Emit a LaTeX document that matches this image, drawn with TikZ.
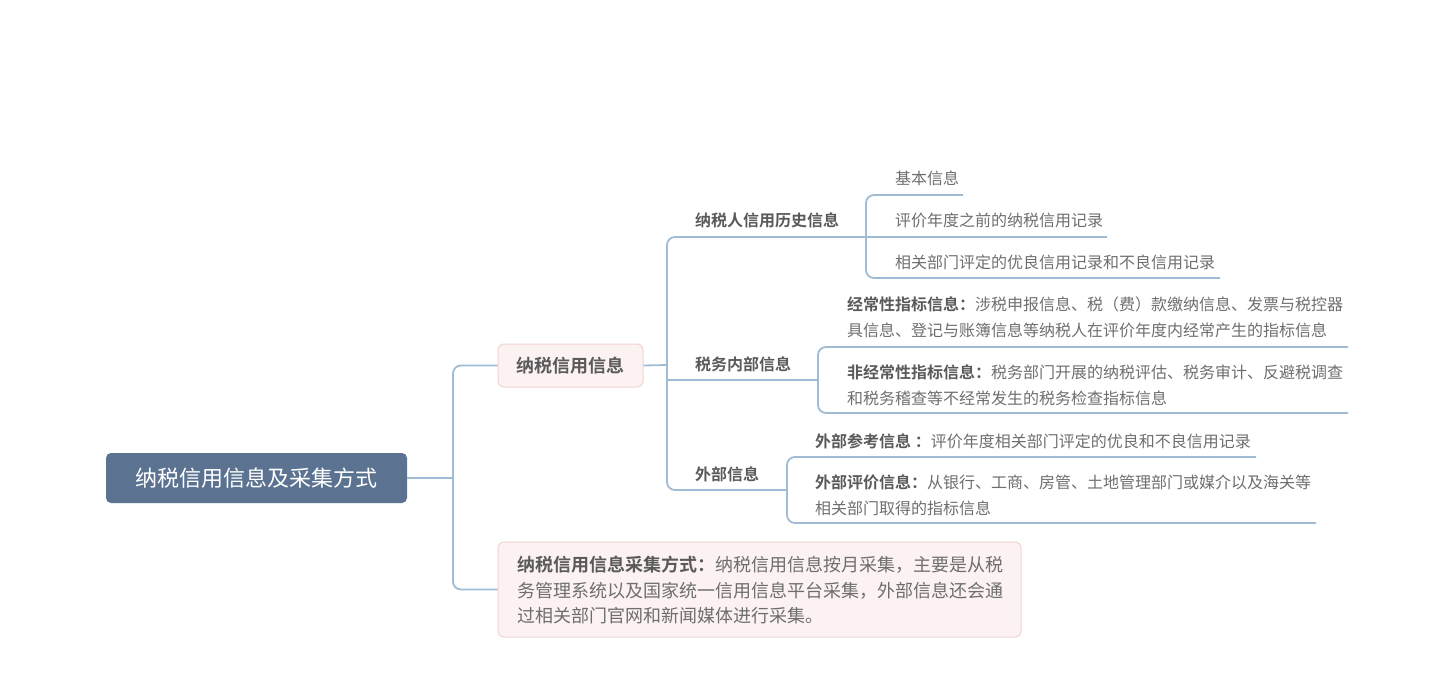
\documentclass[tikz,border=0pt]{standalone}
\usepackage{fontspec}
\setmainfont{Noto Sans CJK SC}
\newfontfamily\cjkb{Noto Sans CJK SC Bold}
\definecolor{rootfill}{HTML}{5B7391}
\definecolor{linec}{HTML}{A0BCD4}
\definecolor{pinkfill}{HTML}{FCF2F2}
\definecolor{pinkdraw}{HTML}{F2D3D3}
\definecolor{txt}{HTML}{6E6E6E}
\definecolor{btxt}{HTML}{5A5A5A}
\begin{document}
\begin{tikzpicture}[x=1pt,y=-1pt,
  conn/.style={draw=linec,line width=1.8pt,rounded corners=8pt},
  rootbox/.style={fill=rootfill,rounded corners=5pt,text=white,minimum width=301pt,minimum height=50pt,font=\fontsize{22}{26}\selectfont,inner sep=0pt},
  pinkbox/.style={fill=pinkfill,draw=pinkdraw,line width=1pt,rounded corners=6pt,inner sep=0pt},
  topic/.style={anchor=west,inner sep=0pt,yshift=-1pt,text=btxt,font=\cjkb\fontsize{16}{26}\selectfont},
  leaf/.style={anchor=west,inner sep=0pt,yshift=-1pt,text=txt,align=left,font=\fontsize{16}{26}\selectfont}]
\useasboundingbox (0,0) rectangle (1445,674);
% nodes
\node[rootbox] (root) at (256.5,478) {纳税信用信息及采集方式};
\node[pinkbox,minimum width=145pt,minimum height=43pt,text=btxt,font=\cjkb\fontsize{18}{22}\selectfont] (c1) at (570.5,365.5) {纳税信用信息};
\node[pinkbox,minimum width=523pt,minimum height=95pt] (c2) at (759.5,589.5) {};
\node[leaf,font=\fontsize{18}{25.5}\selectfont] (c2t) at (517,589) {{\cjkb\color{btxt}纳税信用信息采集方式：}纳税信用信息按月采集，主要是从税\\务管理系统以及国家统一信用信息平台采集，外部信息还会通\\过相关部门官网和新闻媒体进行采集。};

\node[topic] (t1) at (695,219) {纳税人信用历史信息};
\node[topic] (t2) at (695,363) {税务内部信息};
\node[topic] (t3) at (695,473) {外部信息};

\node[leaf] (l11) at (895,177) {基本信息};
\node[leaf] (l12) at (895,219) {评价年度之前的纳税信用记录};
\node[leaf] (l13) at (895,261) {相关部门评定的优良信用记录和不良信用记录};

\node[leaf] (l21) at (847,316) {{\cjkb\color{btxt}经常性指标信息：}涉税申报信息、税（费）款缴纳信息、发票与税控器\\具信息、登记与账簿信息等纳税人在评价年度内经常产生的指标信息};
\node[leaf] (l22) at (847,384) {{\cjkb\color{btxt}非经常性指标信息：}税务部门开展的纳税评估、税务审计、反避税调查\\和税务稽查等不经常发生的税务检查指标信息};

\node[leaf] (l31) at (815,440) {{\cjkb\color{btxt}外部参考信息 ：}评价年度相关部门评定的优良和不良信用记录};
\node[leaf] (l32) at (815,494) {{\cjkb\color{btxt}外部评价信息：}从银行、工商、房管、土地管理部门或媒介以及海关等\\相关部门取得的指标信息};

% junction coordinates
\coordinate (j0) at (453,478);
\coordinate (j1) at (667,365);
\coordinate (e11) at (963,195);
\coordinate (e12) at (1107,237);
\coordinate (e13) at (1220,278);
\coordinate (e21) at (1348,347);
\coordinate (e22) at (1348,413);
\coordinate (e31) at (1256,457);
\coordinate (e32) at (1316,523);

% connectors: root level
\draw[conn] (root.east) -- (j0);
\draw[conn] (c1.west) -| (j0) |- (c2.west);
% child 1
\draw[conn] (c1.east) -- (j1);
\draw[conn] (866,237) -- (667,237) -- (667,490) -- (787,490);
\draw[conn] (667,380) -- (818,380);
% t1 leaves
\draw[conn] (e11) -- (866,195) -- (866,278) -- (e13);
\draw[conn] (866,237) -- (e12);
% t2 leaves
\draw[conn] (e21) -- (818,347) -- (818,413) -- (e22);
% t3 leaves
\draw[conn] (e31) -- (787,457) -- (787,523) -- (e32);
\end{tikzpicture}
\end{document}
